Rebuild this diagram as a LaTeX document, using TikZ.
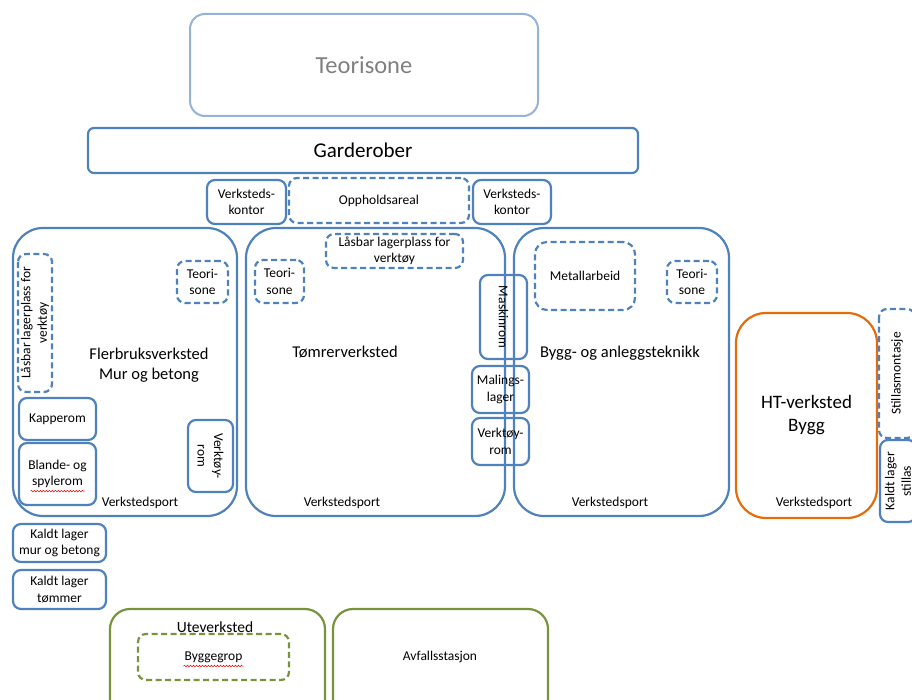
\documentclass[tikz,border=0pt]{standalone}
\usepackage{fontspec}
\setmainfont{Carlito}
\usetikzlibrary{decorations.pathmorphing}

\definecolor{romblaa}{HTML}{4F81BD}
\definecolor{lysblaa}{HTML}{95B3D7}
\definecolor{htoransje}{HTML}{E46C0A}
\definecolor{utegronn}{HTML}{77933C}
\definecolor{graatekst}{HTML}{7F7F7F}

\begin{document}
\begin{tikzpicture}[x=1pt,y=-1pt,
   rom/.style={draw=romblaa,line width=2.2pt,rounded corners=8pt,inner sep=1pt,
     align=center,font=\fontsize{13.5}{16.5}\selectfont},
   stiplet/.style={rom,dash pattern=on 6pt off 3.5pt},
   hall/.style={draw=romblaa,line width=2.2pt,rounded corners=30pt,inner sep=0pt},
   etikett/.style={inner sep=0pt,align=center,font=\fontsize{13.5}{16.5}\selectfont},
   hallnavn/.style={inner sep=0pt,align=center,font=\fontsize{16.5}{19.5}\selectfont},
   ute/.style={draw=utegronn,line width=2.2pt,rounded corners=20pt,inner sep=0pt},
   stavefeil/.style={draw=red,line width=0.5pt,decorate,
     decoration={snake,amplitude=0.8pt,segment length=3pt}}]
   \useasboundingbox (0,0) rectangle (912,700);
   \clip (0,0) rectangle (912,700);

   \path (364,65) node[draw=lysblaa,line width=2pt,rounded corners=15pt,
     minimum width=348pt,minimum height=102pt,text=graatekst,
     font=\fontsize{24.5}{28}\selectfont] (teorisone) {Teorisone};
   \path (363,150.5) node[rom,rounded corners=6pt,minimum width=550pt,minimum height=45pt,
     font=\fontsize{21}{24}\selectfont] (garderober) {Garderober};

   \path (246.5,202) node[rom,minimum width=79pt,minimum height=44pt] (kontorV) {Verksteds-\\kontor};
   \path (379,200.5) node[stiplet,minimum width=180pt,minimum height=45pt] (opphold) {Oppholdsareal};
   \path (512,202) node[rom,minimum width=78pt,minimum height=44pt] (kontorH) {Verksteds-\\kontor};

   \path (125,372) node[hall,minimum width=224pt,minimum height=288pt] (flerbruk) {};
   \path (375.5,372) node[hall,minimum width=259pt,minimum height=288pt] (tomrer) {};
   \path (621.5,372) node[hall,minimum width=215pt,minimum height=288pt] (bygg) {};
   \path (806.5,415.5) node[hall,draw=htoransje,minimum width=141pt,minimum height=205pt,
     align=center,font=\fontsize{19}{23}\selectfont] (htverksted) {HT-verksted\\Bygg};

   \path (35,323) node[stiplet,rotate=90,minimum width=138pt,minimum height=34pt] (lasbarF) {Låsbar lagerplass for\\verktøy};
   \path (202.5,282) node[stiplet,minimum width=51pt,minimum height=42pt] (teoriF) {Teori-\\sone};
   \path (149,365) node[hallnavn] (flerbruknavn) {Flerbruksverksted\\Mur og betong};
   \path (57.5,419) node[rom,minimum width=77pt,minimum height=42pt] (kapperom) {Kapperom};
   \path (57.5,474) node[rom,minimum width=77pt,minimum height=62pt] (blande) {Blande- og\\spylerom};
   \path (210.5,456) node[rom,rotate=-90,minimum width=72pt,minimum height=45pt] (verktoyF) {Verktøy-\\rom};
   \path (140,503) node[etikett] (portF) {Verkstedsport};

   \path (394.5,251) node[stiplet,minimum width=137pt,minimum height=34pt] (lasbarT) {Låsbar lagerplass for\\verktøy};
   \path (279.5,281.5) node[stiplet,minimum width=49pt,minimum height=43pt] (teoriT) {Teori-\\sone};
   \path (345,352) node[hallnavn] (tomrernavn) {Tømrerverksted};
   \path (503.5,317) node[rom,rotate=-90,minimum width=84pt,minimum height=47pt] (maskinrom) {Maskinrom};
   \path (500.5,389.5) node[rom,minimum width=57pt,minimum height=47pt] (malingslager) {Malings-\\lager};
   \path (500.5,441.5) node[rom,minimum width=57pt,minimum height=47pt] (verktoyT) {Verktøy-\\rom};
   \path (342,503) node[etikett] (portT) {Verkstedsport};

   \path (585,276) node[stiplet,rounded corners=12pt,minimum width=100pt,minimum height=68pt] (metall) {Metallarbeid};
   \path (692,282) node[stiplet,minimum width=50pt,minimum height=42pt] (teoriB) {Teori-\\sone};
   \path (620,353) node[hallnavn] (byggnavn) {Bygg- og anleggsteknikk};
   \path (610,503) node[etikett] (portB) {Verkstedsport};
   \path (814,503) node[etikett] (portH) {Verkstedsport};

   \path (897,373.5) node[stiplet,rotate=90,minimum width=129pt,minimum height=36pt] (stillas) {Stillasmontasje};
   \path (898,481) node[rom,rotate=90,minimum width=82pt,minimum height=36pt] (kaldtS) {Kaldt lager\\stillas};

   \path (59.5,543) node[rom,minimum width=93pt,minimum height=38pt] (kaldtM) {Kaldt lager\\mur og betong};
   \path (59.5,589.5) node[rom,minimum width=93pt,minimum height=39pt] (kaldtT) {Kaldt lager\\tømmer};

   \path (217.5,665) node[ute,minimum width=215pt,minimum height=112pt] (uteverksted) {};
   \path (215,627) node[hallnavn,font=\fontsize{15.5}{19}\selectfont] (utenavn) {Uteverksted};
   \path (213.5,657) node[stiplet,draw=utegronn,minimum width=151pt,minimum height=46pt] (byggegrop) {Byggegrop};
   \path (440.5,665) node[ute,minimum width=215pt,minimum height=112pt] (avfall) {};
   \path (440,657) node[etikett] (avfallnavn) {Avfallsstasjon};

   \draw[stavefeil] ([xshift=-27pt]blande.south) ++(0,-15) -- ++(54,0);
   \draw[stavefeil] ([xshift=-30pt]byggegrop.center) ++(0,9) -- ++(60,0);
\end{tikzpicture}
\end{document}
